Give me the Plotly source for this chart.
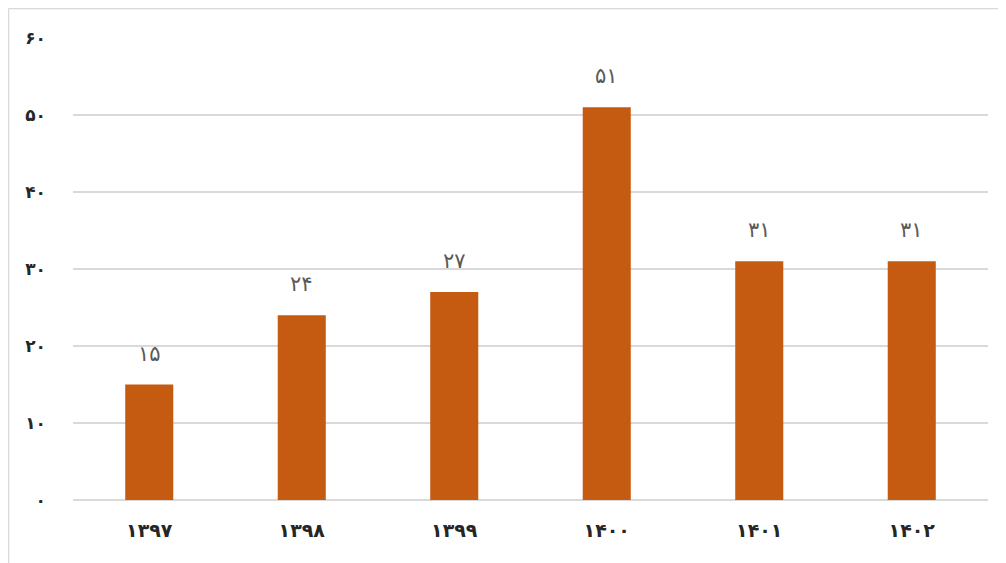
import plotly.graph_objects as go

categories = ["۱۳۹۷", "۱۳۹۸", "۱۳۹۹", "۱۴۰۰", "۱۴۰۱", "۱۴۰۲"]
values = [15, 24, 27, 51, 31, 31]
value_labels = ["۱۵", "۲۴", "۲۷", "۵۱", "۳۱", "۳۱"]
y_ticks = [0, 10, 20, 30, 40, 50, 60]
y_tick_labels = ["۰", "۱۰", "۲۰", "۳۰", "۴۰", "۵۰", "۶۰"]

FONT = "DejaVu Sans"

# page has an 8px body margin; figure sized to fit the viewport
W, H = 998, 555
L, R, T, B = 65, 18, 30, 63
PW, PH = W - L - R, H - T - B

fig = go.Figure()
fig.add_trace(go.Bar(
    x=categories, y=values,
    marker=dict(color="#C55A11", line=dict(width=0)),
    width=0.315,
    hoverinfo="skip",
))

for c, v, t in zip(categories, values, value_labels):
    fig.add_annotation(x=c, y=v, text=t, showarrow=False, yshift=31,
                       font=dict(family=FONT, size=21, color="#595959"))

fig.update_layout(
    width=W, height=H,
    margin=dict(l=L, r=R, t=T, b=B),
    paper_bgcolor="white", plot_bgcolor="white",
    showlegend=False,
    xaxis=dict(
        type="category", showgrid=False, zeroline=False, showline=False,
        ticks="", tickfont=dict(family=FONT, size=19, color="#262626", weight="bold"),
        ticklabelstandoff=17,
    ),
    yaxis=dict(
        range=[0, 60], tickvals=y_ticks, ticktext=y_tick_labels,
        showgrid=True, gridcolor="#D9D9D9", gridwidth=1.5,
        zeroline=True, zerolinecolor="#D9D9D9", zerolinewidth=1.5,
        showline=False, ticks="",
        tickfont=dict(family=FONT, size=17, color="#262626", weight="bold"),
        ticklabelstandoff=26,
    ),
    shapes=[
        dict(type="line", xref="paper", yref="paper",
             x0=(0.5 - L) / PW, x1=(W - L) / PW,
             y0=1 + (T - 0.5) / PH, y1=1 + (T - 0.5) / PH,
             line=dict(color="#D9D9D9", width=1.5)),
        dict(type="line", xref="paper", yref="paper",
             x0=(0.5 - L) / PW, x1=(0.5 - L) / PW,
             y0=1 + (T - 0.5) / PH, y1=-B / PH,
             line=dict(color="#D9D9D9", width=1.5)),
    ],
)

fig.write_html("out.html")
